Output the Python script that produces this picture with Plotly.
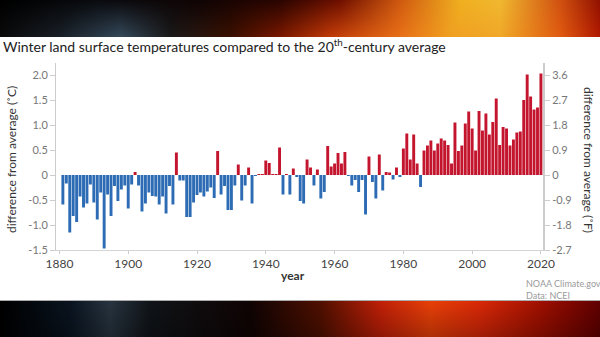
import base64, struct, zlib
import numpy as np
import plotly.graph_objects as go

# ---------------- data ----------------
years = list(range(1881, 2021))
anom_c = [
    -0.59, -0.17, -1.15, -0.82, -0.94, -0.43, -0.65, -0.57, -0.19, -0.55,
    -0.89, -0.35, -1.47, -0.39, -0.82, -0.22, -0.52, -0.29, -0.21, -0.67,
    -0.19, 0.06, -0.21, -0.73, -0.57, -0.35, -0.42, -0.43, -0.59, -0.43,
    -0.77, -0.22, -0.59, 0.45, -0.11, -0.11, -0.84, -0.84, -0.55, -0.40,
    -0.35, -0.43, -0.33, -0.25, -0.46, 0.48, -0.39, -0.22, -0.70, -0.70,
    -0.21, 0.21, -0.51, -0.21, 0.15, -0.57, -0.02, 0.01, 0.01, 0.29,
    0.24, 0.01, 0.01, 0.55, -0.39, 0.01, -0.39, 0.13, -0.03, -0.52,
    -0.57, 0.31, 0.15, -0.21, 0.11, -0.47, -0.34, 0.58, 0.17, 0.23,
    0.44, 0.23, 0.46, -0.01, -0.21, -0.10, -0.34, -0.10, -0.79, 0.37,
    -0.14, -0.47, 0.41, -0.31, 0.06, 0.05, -0.09, 0.15, -0.04, 0.53,
    0.83, 0.31, 0.81, 0.23, -0.24, 0.49, 0.59, 0.69, 0.49, 0.63,
    0.73, 0.69, 0.60, 0.23, 1.05, 0.48, 0.59, 1.03, 1.27, 0.93,
    0.49, 1.28, 0.89, 1.23, 0.81, 1.06, 1.53, 0.60, 0.96, 0.93,
    0.59, 0.71, 0.85, 0.87, 1.50, 2.01, 1.57, 1.31, 1.35, 2.03,
]
x_ticks = [1880, 1900, 1920, 1940, 1960, 1980, 2000, 2020]
c_ticks = [-1.5, -1.0, -0.5, 0, 0.5, 1.0, 1.5, 2.0]
c_labels = ["-1.5", "-1.0", "-0.5", "0", "0.5", "1.0", "1.5", "2.0"]
f_ticks = [-2.7, -1.8, -0.9, 0, 0.9, 1.8, 2.7, 3.6]
f_labels = ["-2.7", "-1.8", "-0.9", "0", "0.9", "1.8", "2.7", "3.6"]

RED = "#c4152e"
BLUE = "#2d6cb4"

# ---------------- background picture ----------------
W, H = 600, 337
PANEL_TOP, PANEL_BOT = 37, 301


def ramp(stops, xs):
    px = [s[0] for s in stops]
    out = np.zeros((len(xs), 3))
    for ch in range(3):
        vals = [int(s[1][1 + 2 * ch:3 + 2 * ch], 16) for s in stops]
        out[:, ch] = np.interp(xs, px, vals)
    return out


xs = np.arange(W)
top_hi = ramp([(0, "#000000"), (100, "#0a0c10"), (200, "#100404"), (280, "#2a0500"),
               (340, "#701000"), (400, "#d05a10"), (460, "#f0b020"), (500, "#f0b830"),
               (560, "#d05010"), (600, "#901000")], xs)
top_lo = ramp([(0, "#0a0a0a"), (60, "#1a2028"), (120, "#34495a"), (170, "#1a1a1a"),
               (230, "#3a1000"), (280, "#7a1800"), (330, "#c03a08"), (400, "#e87018"),
               (450, "#f0a020"), (500, "#f0a828"), (560, "#e05a10"), (600, "#b01800")], xs)
bot_hi = ramp([(0, "#000000"), (70, "#0a1420"), (110, "#283440"), (150, "#101418"),
               (250, "#100404"), (320, "#501000"), (380, "#c02008"), (430, "#e84008"),
               (480, "#d82808"), (540, "#a01000"), (600, "#600000")], xs)
bot_lo = bot_hi * 0.75

img = np.zeros((H, W, 3))
for yy in range(H):
    if yy < PANEL_TOP:
        t = yy / (PANEL_TOP - 1)
        img[yy] = top_hi * (1 - t) + top_lo * t
    elif yy >= PANEL_BOT:
        t = (yy - PANEL_BOT) / (H - PANEL_BOT - 1)
        img[yy] = bot_hi * (1 - t) + bot_lo * t
    else:
        img[yy] = 255
img[PANEL_BOT - 1, :] = 170
img = np.clip(img, 0, 255).astype(np.uint8)


def png_bytes(arr):
    h, w, _ = arr.shape
    raw = b"".join(b"\x00" + arr[i].tobytes() for i in range(h))

    def chunk(tag, data):
        c = struct.pack(">I", len(data)) + tag + data
        return c + struct.pack(">I", zlib.crc32(tag + data) & 0xFFFFFFFF)

    return (b"\x89PNG\r\n\x1a\n"
            + chunk(b"IHDR", struct.pack(">IIBBBBB", w, h, 8, 2, 0, 0, 0))
            + chunk(b"IDAT", zlib.compress(raw, 9))
            + chunk(b"IEND", b""))


bg_uri = "data:image/png;base64," + base64.b64encode(png_bytes(img)).decode()

# ---------------- figure ----------------
L, R, T, B = 56, 57, 63, 87
PW, PH = W - L - R, H - T - B
YMIN, YMAX = -1.5, 2.24


def px_x(x):
    return (x - L) / PW


def px_y(y):
    return (T + PH - y) / PH


fig = go.Figure()
fig.add_trace(go.Bar(
    x=years, y=anom_c,
    marker=dict(color=[RED if v >= 0 else BLUE for v in anom_c], line=dict(width=0)),
    hoverinfo="x+y", showlegend=False,
))
fig.add_trace(go.Scatter(
    x=[years[0]], y=[0], yaxis="y2", mode="markers", opacity=0,
    showlegend=False, hoverinfo="skip",
))

FONT = "Lato"
fig.update_layout(
    width=W, height=H,
    margin=dict(l=L, r=R, t=T, b=B, pad=0),
    paper_bgcolor="#ffffff", plot_bgcolor="rgba(0,0,0,0)",
    bargap=0.15,
    font=dict(family=FONT, size=11, color="#666666"),
    title=dict(
        text="Winter land surface temperatures compared to the 20<sup>th</sup>-century average",
        x=3 / W, xanchor="left", xref="container",
        y=1 - 47 / H, yanchor="middle", yref="container",
        font=dict(family=FONT, size=14, color="#222222"),
    ),
    xaxis=dict(
        range=[1879.0, 2020.6], tickvals=x_ticks, ticks="outside", ticklen=3,
        tickcolor="#cccccc", showline=True, linecolor="#d4d4d4", linewidth=1,
        showgrid=False, zeroline=False,
        tickfont=dict(size=12, color="#444444"),
    ),
    yaxis=dict(
        range=[YMIN, YMAX], tickvals=c_ticks, ticktext=c_labels, ticks="outside",
        ticklen=5, tickcolor="#cccccc", showline=True, linecolor="#cccccc",
        linewidth=1, showgrid=False, zeroline=False,
        tickfont=dict(size=11, color="#777777"),
    ),
    yaxis2=dict(
        overlaying="y", side="right", range=[YMIN * 1.8, YMAX * 1.8],
        tickvals=f_ticks, ticktext=f_labels, ticks="outside", ticklen=5,
        tickcolor="#cccccc", showline=True, linecolor="#cccccc", linewidth=2,
        showgrid=False, zeroline=False, tickfont=dict(size=11, color="#777777"),
    ),
    images=[dict(
        source=bg_uri, xref="paper", yref="paper",
        x=-L / PW, y=1 + T / PH, sizex=W / PW, sizey=H / PH,
        xanchor="left", yanchor="top", sizing="stretch", layer="below",
    )],
    annotations=[
        dict(text="difference from average (˚C)", textangle=-90, showarrow=False,
             xref="paper", yref="paper", x=px_x(11), y=px_y(160),
             xanchor="center", yanchor="middle",
             font=dict(family=FONT, size=12, color="#333333")),
        dict(text="difference from average (˚F)", textangle=90, showarrow=False,
             xref="paper", yref="paper", x=px_x(589), y=px_y(160),
             xanchor="center", yanchor="middle",
             font=dict(family=FONT, size=12, color="#333333")),
        dict(text="<b>year</b>", showarrow=False, xref="paper", yref="paper",
             x=px_x(293), y=px_y(275), xanchor="center", yanchor="middle",
             font=dict(family=FONT, size=12, color="#333333")),
        dict(text="NOAA Climate.gov", showarrow=False, xref="paper", yref="paper",
             x=px_x(524), y=px_y(283), xanchor="left", yanchor="middle",
             font=dict(family=FONT, size=9, color="#9a9a9a")),
        dict(text="Data: NCEI", showarrow=False, xref="paper", yref="paper",
             x=px_x(524), y=px_y(295), xanchor="left", yanchor="middle",
             font=dict(family=FONT, size=9, color="#9a9a9a")),
    ],
)

fig.write_html("out.html")
